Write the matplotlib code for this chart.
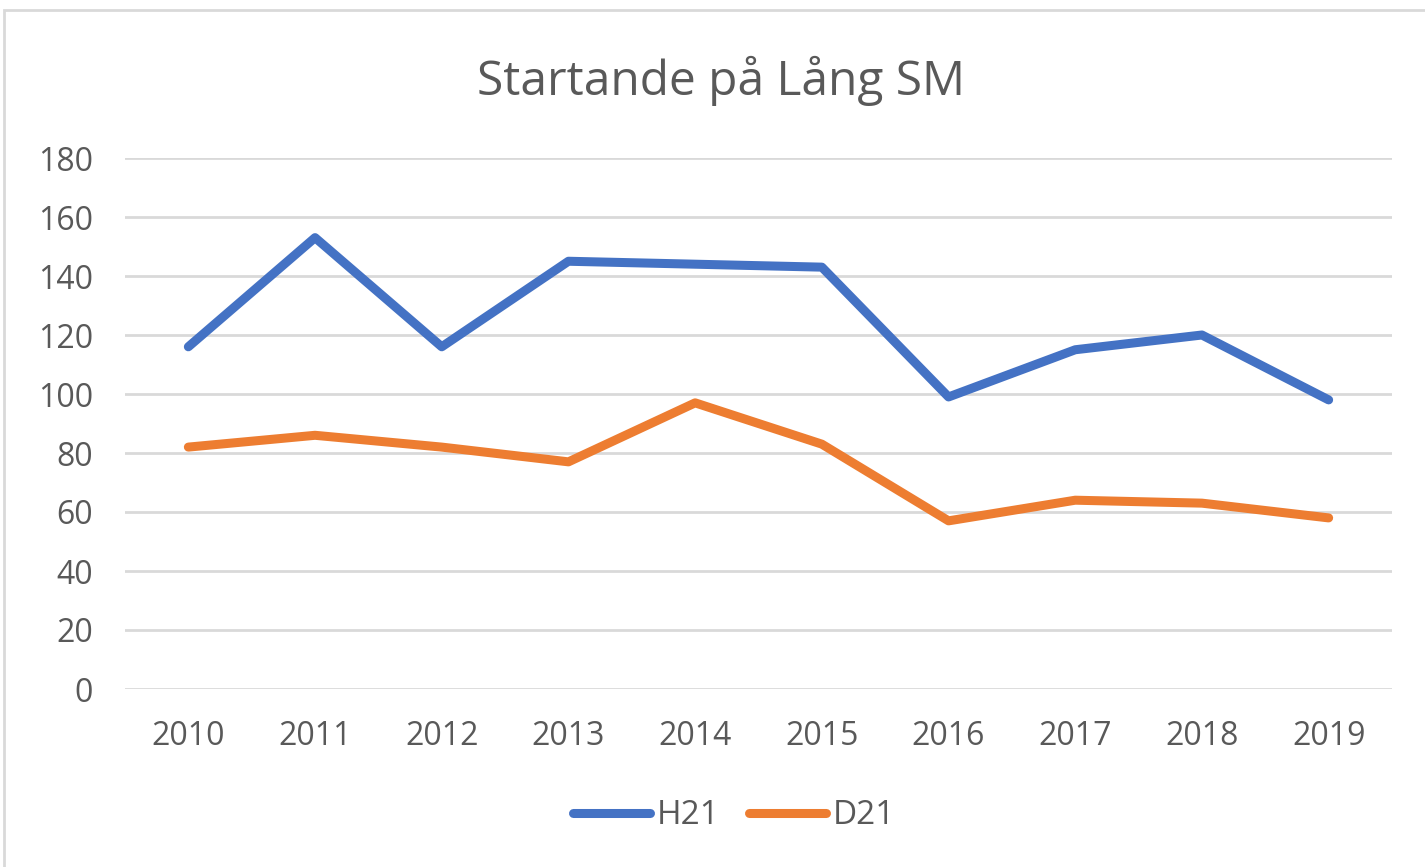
import matplotlib.pyplot as plt
from matplotlib.patches import Rectangle

years = ['2010', '2011', '2012', '2013', '2014', '2015', '2016', '2017', '2018', '2019']
h21 = [116, 153, 116, 145, 144, 143, 99, 115, 120, 98]
d21 = [82, 86, 82, 77, 97, 83, 57, 64, 63, 58]
y_ticks = [0, 20, 40, 60, 80, 100, 120, 140, 160, 180]

plt.rcParams['font.family'] = ['Open Sans', 'DejaVu Sans']

fig = plt.figure(figsize=(14.25, 8.67), dpi=100)
# outer chart frame
fig.patches.append(Rectangle((4 / 1425, -0.01), 1.02, (867 - 10) / 867 + 0.01,
                             transform=fig.transFigure, fill=False,
                             edgecolor='#d9d9d9', linewidth=2))

ax = fig.add_axes([125 / 1425, (867 - 689) / 867, 1267 / 1425, 531 / 867])
x = list(range(len(years)))
ax.plot(x, h21, color='#4472C4', lw=6.5, solid_capstyle='round',
        solid_joinstyle='round', label='H21', zorder=3)
ax.plot(x, d21, color='#ED7D31', lw=6.5, solid_capstyle='round',
        solid_joinstyle='round', label='D21', zorder=3)

ax.set_xlim(-0.5, len(years) - 0.5)
ax.set_ylim(0, 180)
ax.set_yticks(y_ticks)
ax.set_xticks(x)
ax.set_xticklabels(years)
ax.grid(axis='y', color='#d9d9d9', lw=2)
ax.set_axisbelow(True)
for s in ax.spines.values():
    s.set_visible(False)
ax.tick_params(length=0, labelsize=23, labelcolor='#595959')
ax.tick_params(axis='x', pad=22)
ax.tick_params(axis='y', pad=23)

fig.text(0.506, 1 - 81 / 867, 'Startande på Lång SM', ha='center', va='center',
         fontsize=34.5, color='#595959')

leg = fig.legend(loc='center', bbox_to_anchor=(0.515, 1 - 816 / 867), ncol=2,
                 frameon=False, fontsize=24, handlelength=2.3, columnspacing=0.9,
                 handletextpad=0.2)
for t in leg.get_texts():
    t.set_color('#595959')

fig.savefig('out.png', dpi=100)
